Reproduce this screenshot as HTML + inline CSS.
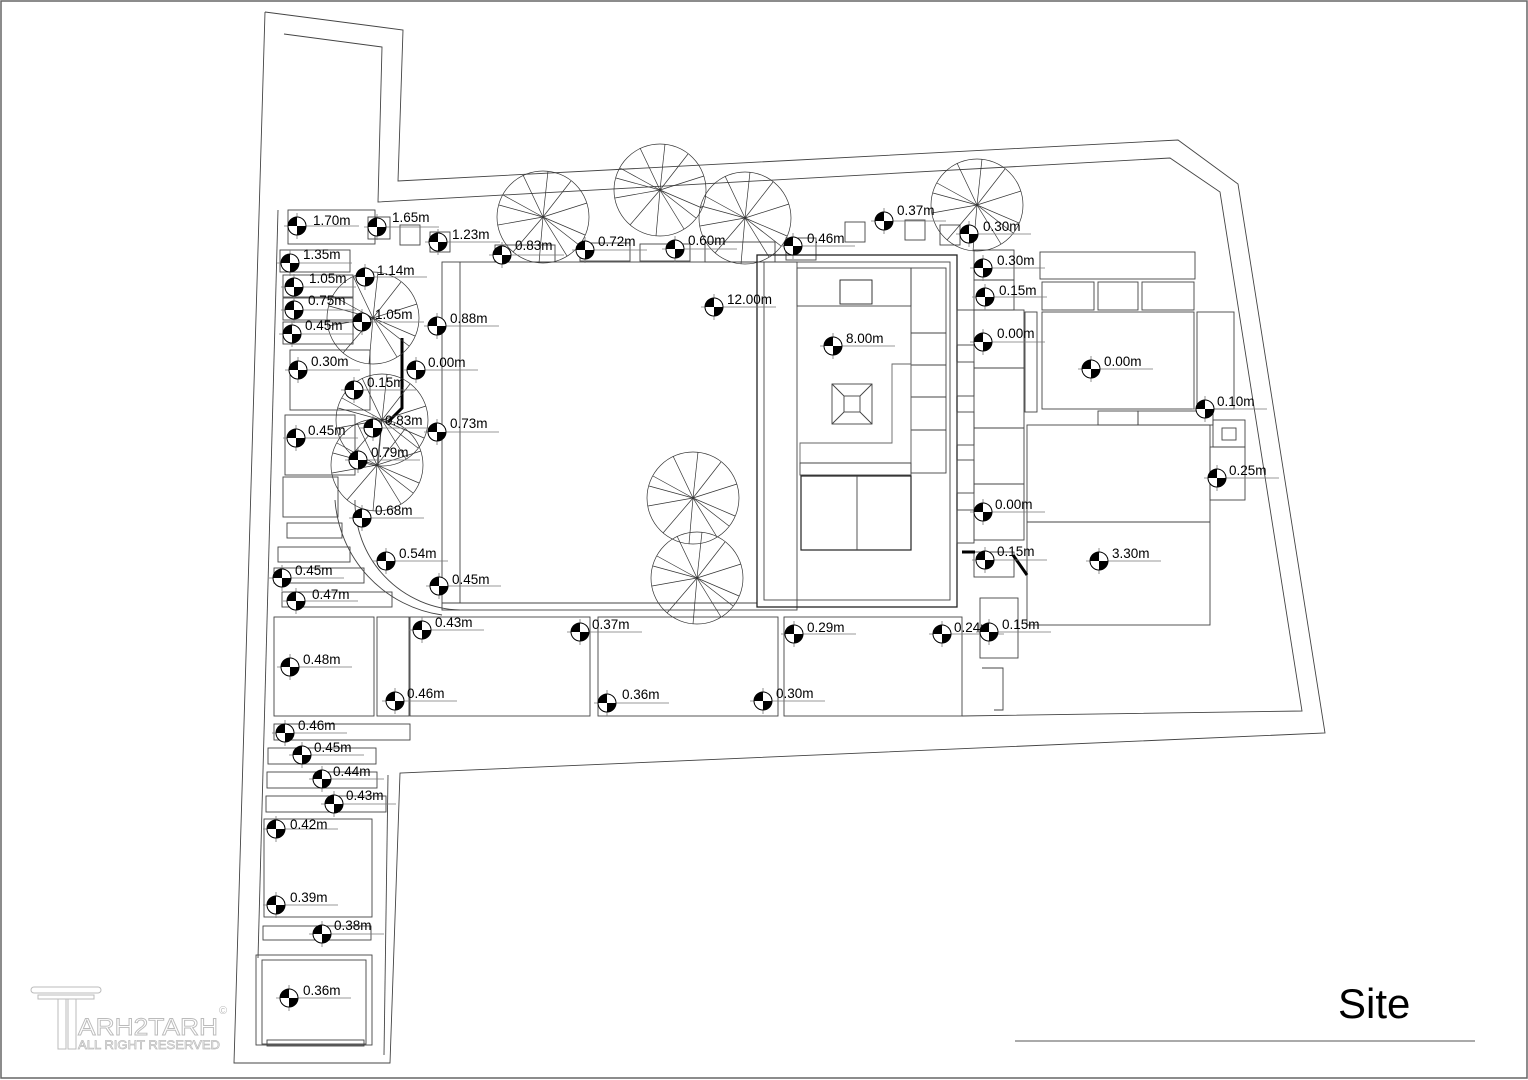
<!DOCTYPE html>
<html><head><meta charset="utf-8"><style>
html,body{margin:0;padding:0;background:#fff}
svg{display:block}
text{font-family:"Liberation Sans",sans-serif;font-size:13.5px;fill:#000}
</style></head><body>
<svg width="1528" height="1080" viewBox="0 0 1528 1080" xmlns="http://www.w3.org/2000/svg">
<defs>
<g id="m">
<line x1="-13" y1="0" x2="62" y2="0" stroke="#777" stroke-width="0.8"/>
<line x1="0" y1="-13" x2="0" y2="13" stroke="#777" stroke-width="0.8"/>
<circle r="9" fill="#fff" stroke="#000" stroke-width="1"/>
<path d="M0 0 L-9 0 A9 9 0 0 1 0 -9 Z M0 0 L9 0 A9 9 0 0 1 0 9 Z" fill="#000"/>
</g>
<g id="t" stroke="#333" stroke-width="0.7" fill="none">
<circle r="46"/>
<line x1="0" y1="0" x2="-40" y2="-22"/><line x1="0" y1="0" x2="-20" y2="-42"/><line x1="0" y1="0" x2="5" y2="-46"/><line x1="0" y1="0" x2="28" y2="-36"/><line x1="0" y1="0" x2="44" y2="-14"/><line x1="0" y1="0" x2="42" y2="18"/><line x1="0" y1="0" x2="24" y2="39"/><line x1="0" y1="0" x2="-4" y2="46"/><line x1="0" y1="0" x2="-30" y2="35"/><line x1="0" y1="0" x2="-45" y2="8"/><line x1="0" y1="0" x2="-44" y2="-12"/><line x1="0" y1="0" x2="36" y2="28"/>
</g>
</defs>
<rect x="1" y="1" width="1526" height="1077" fill="none" stroke="#666" stroke-width="1.5"/>
<g fill="none" stroke="#444" stroke-width="0.9">
<polyline points="265,12 403,30 398,181 1178,140 1238,184 1325,733 400,773 390,1063 234,1063 265,12"/>
<polyline points="284,34 382,47 378,202 1170,158 1220,192 1302,711 962,716"/>
<polyline points="278,210 258,958"/>
<polyline points="388,775 384,1055"/>
<rect x="288" y="210" width="87" height="34"/>
<rect x="368" y="217" width="22" height="22"/><rect x="400" y="225" width="20" height="20"/><rect x="430" y="232" width="20" height="20"/>
<rect x="280" y="250" width="70" height="22"/><rect x="283" y="275" width="70" height="22"/><rect x="283" y="298" width="70" height="22"/><rect x="283" y="322" width="70" height="22"/>
<rect x="290" y="350" width="80" height="60"/><rect x="285" y="415" width="70" height="60"/>
<rect x="283" y="477" width="55" height="40"/><rect x="287" y="523" width="55" height="15"/>
<rect x="278" y="547" width="72" height="15"/><rect x="274" y="568" width="90" height="15"/><rect x="282" y="592" width="110" height="15"/>
<rect x="274" y="617" width="100" height="99"/><rect x="377" y="617" width="32" height="99"/><rect x="410" y="617" width="180" height="99"/><rect x="598" y="617" width="180" height="99"/><rect x="784" y="617" width="178" height="99"/>
<rect x="274" y="724" width="136" height="16"/><rect x="268" y="748" width="108" height="16"/><rect x="267" y="772" width="110" height="16"/><rect x="266" y="796" width="120" height="16"/>
<rect x="264" y="819" width="108" height="98"/><rect x="263" y="926" width="108" height="14"/>
<rect x="256" y="955" width="116" height="90"/><rect x="262" y="960" width="104" height="84"/><rect x="267" y="1040" width="97" height="6"/>
<rect x="495" y="245" width="60" height="17"/><rect x="580" y="243" width="50" height="18"/><rect x="640" y="244" width="50" height="17"/><rect x="705" y="242" width="70" height="20"/><rect x="786" y="238" width="30" height="22"/><rect x="845" y="222" width="20" height="20"/><rect x="905" y="220" width="20" height="20"/><rect x="940" y="225" width="20" height="20"/>
<rect x="442" y="262" width="355" height="348"/>
<line x1="460" y1="262" x2="460" y2="603"/><line x1="442" y1="603" x2="757" y2="603"/>
<path d="M355 500 A108 108 0 0 0 460 610"/><path d="M335 500 A125 125 0 0 0 442 615"/>
<rect x="757" y="255" width="200" height="352" stroke="#222" stroke-width="1.3"/>
<rect x="764" y="262" width="186" height="338"/>
<rect x="797" y="268" width="114" height="38"/><rect x="840" y="280" width="32" height="24" stroke="#222"/>
<rect x="911" y="268" width="35" height="205"/>
<line x1="911" y1="333" x2="946" y2="333"/><line x1="911" y1="365" x2="946" y2="365"/><line x1="911" y1="397" x2="946" y2="397"/><line x1="911" y1="430" x2="946" y2="430"/>
<rect x="832" y="384" width="40" height="40"/><rect x="844" y="396" width="16" height="16"/>
<path d="M832 384 L844 396 M872 384 L860 396 M832 424 L844 412 M872 424 L860 412"/>
<path d="M800 443 L892 443 L892 364 L911 364 L911 463 L800 463 Z" stroke="#666"/>
<rect x="800" y="463" width="111" height="12"/>
<rect x="801" y="476" width="110" height="74" stroke="#222" stroke-width="1.2"/><line x1="857" y1="476" x2="857" y2="550"/>
<rect x="957" y="310" width="17" height="35"/><rect x="957" y="362" width="17" height="34"/><rect x="957" y="412" width="17" height="33"/><rect x="957" y="460" width="17" height="33"/><rect x="957" y="510" width="17" height="33"/>
<rect x="974" y="250" width="40" height="30"/><rect x="974" y="280" width="40" height="30"/>
<rect x="974" y="310" width="50" height="230"/><line x1="974" y1="368" x2="1024" y2="368"/><line x1="974" y1="428" x2="1024" y2="428"/><line x1="974" y1="484" x2="1024" y2="484"/>
<rect x="1025" y="312" width="12" height="100"/>
<rect x="1040" y="252" width="155" height="27"/><rect x="1042" y="282" width="52" height="28"/><rect x="1098" y="282" width="40" height="28"/><rect x="1142" y="282" width="52" height="28"/>
<rect x="1042" y="312" width="152" height="97"/><rect x="1197" y="312" width="37" height="97"/>
<rect x="1098" y="411" width="40" height="14"/><rect x="1138" y="411" width="75" height="14"/>
<rect x="1027" y="425" width="183" height="200"/><line x1="1027" y1="522" x2="1210" y2="522"/>
<rect x="1213" y="420" width="32" height="27"/><rect x="1222" y="428" width="14" height="12"/><rect x="1210" y="447" width="35" height="53"/>
<rect x="974" y="552" width="40" height="25"/><rect x="980" y="598" width="38" height="60"/><polyline points="982,668 1003,668 1003,710 994,710"/>
</g>
<g stroke="#000" stroke-width="3" fill="none">
<polyline points="402,338 402,408 388,422"/>
<line x1="962" y1="552" x2="975" y2="552"/><line x1="1013" y1="555" x2="1027" y2="575"/>
</g>
<use href="#t" x="543" y="217"/><use href="#t" x="660" y="190"/><use href="#t" x="745" y="218"/><use href="#t" x="977" y="205"/>
<use href="#t" x="373" y="318"/><use href="#t" x="382" y="420"/><use href="#t" x="377" y="465"/>
<use href="#t" x="693" y="498"/><use href="#t" x="697" y="578"/>
<g>
<use href="#m" x="297" y="226"/><text x="313" y="225">1.70m</text>
<use href="#m" x="377" y="227"/><text x="392" y="222">1.65m</text>
<use href="#m" x="438" y="242"/><text x="452" y="239">1.23m</text>
<use href="#m" x="502" y="255"/><text x="515" y="250">0.83m</text>
<use href="#m" x="585" y="250"/><text x="598" y="246">0.72m</text>
<use href="#m" x="675" y="249"/><text x="688" y="245">0.60m</text>
<use href="#m" x="793" y="246"/><text x="807" y="243">0.46m</text>
<use href="#m" x="884" y="221"/><text x="897" y="215">0.37m</text>
<use href="#m" x="969" y="234"/><text x="983" y="231">0.30m</text>
<use href="#m" x="290" y="263"/><text x="303" y="259">1.35m</text>
<use href="#m" x="294" y="287"/><text x="309" y="283">1.05m</text>
<use href="#m" x="365" y="277"/><text x="377" y="275">1.14m</text>
<use href="#m" x="294" y="310"/><text x="308" y="305">0.75m</text>
<use href="#m" x="362" y="322"/><text x="375" y="319">1.05m</text>
<use href="#m" x="292" y="334"/><text x="305" y="330">0.45m</text>
<use href="#m" x="437" y="326"/><text x="450" y="323">0.88m</text>
<use href="#m" x="714" y="307"/><text x="727" y="304">12.00m</text>
<use href="#m" x="983" y="268"/><text x="997" y="265">0.30m</text>
<use href="#m" x="985" y="297"/><text x="999" y="295">0.15m</text>
<use href="#m" x="298" y="370"/><text x="311" y="366">0.30m</text>
<use href="#m" x="416" y="370"/><text x="428" y="367">0.00m</text>
<use href="#m" x="354" y="390"/><text x="367" y="387">0.15m</text>
<use href="#m" x="833" y="346"/><text x="846" y="343">8.00m</text>
<use href="#m" x="983" y="342"/><text x="997" y="338">0.00m</text>
<use href="#m" x="1091" y="369"/><text x="1104" y="366">0.00m</text>
<use href="#m" x="1205" y="409"/><text x="1217" y="406">0.10m</text>
<use href="#m" x="296" y="438"/><text x="308" y="435">0.45m</text>
<use href="#m" x="373" y="428"/><text x="385" y="425">0.83m</text>
<use href="#m" x="437" y="432"/><text x="450" y="428">0.73m</text>
<use href="#m" x="358" y="460"/><text x="371" y="457">0.79m</text>
<use href="#m" x="1217" y="478"/><text x="1229" y="475">0.25m</text>
<use href="#m" x="362" y="518"/><text x="375" y="515">0.68m</text>
<use href="#m" x="983" y="512"/><text x="995" y="509">0.00m</text>
<use href="#m" x="386" y="561"/><text x="399" y="558">0.54m</text>
<use href="#m" x="282" y="578"/><text x="295" y="575">0.45m</text>
<use href="#m" x="439" y="586"/><text x="432" y="584" dx="20">0.45m</text>
<use href="#m" x="296" y="601"/><text x="312" y="599">0.47m</text>
<use href="#m" x="985" y="560"/><text x="997" y="556">0.15m</text>
<use href="#m" x="1099" y="561"/><text x="1112" y="558">3.30m</text>
<use href="#m" x="422" y="630"/><text x="435" y="627">0.43m</text>
<use href="#m" x="580" y="632"/><text x="592" y="629">0.37m</text>
<use href="#m" x="794" y="634"/><text x="807" y="632">0.29m</text>
<use href="#m" x="942" y="634"/><text x="954" y="632">0.24m</text>
<use href="#m" x="989" y="632"/><text x="1002" y="629">0.15m</text>
<use href="#m" x="290" y="667"/><text x="303" y="664">0.48m</text>
<use href="#m" x="395" y="701"/><text x="407" y="698">0.46m</text>
<use href="#m" x="607" y="703"/><text x="622" y="699">0.36m</text>
<use href="#m" x="763" y="701"/><text x="776" y="698">0.30m</text>
<use href="#m" x="285" y="733"/><text x="298" y="730">0.46m</text>
<use href="#m" x="302" y="755"/><text x="314" y="752">0.45m</text>
<use href="#m" x="322" y="779"/><text x="333" y="776">0.44m</text>
<use href="#m" x="334" y="804"/><text x="346" y="800">0.43m</text>
<use href="#m" x="276" y="829"/><text x="290" y="829">0.42m</text>
<use href="#m" x="276" y="905"/><text x="290" y="902">0.39m</text>
<use href="#m" x="322" y="934"/><text x="334" y="930">0.38m</text>
<use href="#m" x="289" y="998"/><text x="303" y="995">0.36m</text>
</g>
<text x="1338" y="1018" style="font-size:42px">Site</text>
<line x1="1015" y1="1041" x2="1475" y2="1041" stroke="#555" stroke-width="1"/>
<g fill="none" stroke="#bbb" stroke-width="1">
<rect x="31" y="987" width="70" height="6" rx="3"/><rect x="38" y="995" width="56" height="4"/>
<rect x="58" y="999" width="8" height="50"/><rect x="68" y="999" width="8" height="50"/>
</g>
<text x="78" y="1035" textLength="140" lengthAdjust="spacingAndGlyphs" style="font-size:24px;fill:none;stroke:#bbb;stroke-width:0.9">ARH2TARH</text>
<text x="78" y="1049" textLength="142" lengthAdjust="spacingAndGlyphs" style="font-size:12px;fill:none;stroke:#bbb;stroke-width:0.7">ALL RIGHT RESERVED</text>
<text x="219" y="1014" style="font-size:11px;fill:#bbb">©</text>
</svg>
</body></html>
